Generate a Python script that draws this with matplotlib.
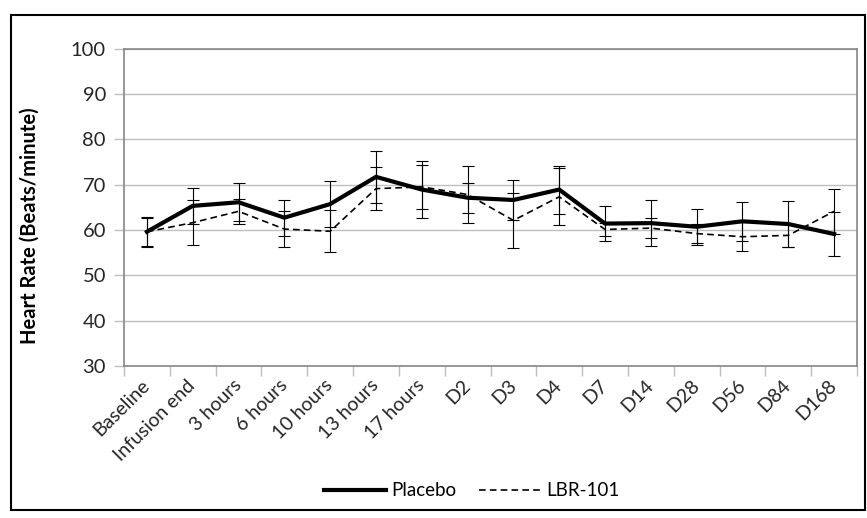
import matplotlib
matplotlib.use('Agg')
import matplotlib.pyplot as plt
from matplotlib.patches import Rectangle
import numpy as np

plt.rcParams['font.family'] = ['Lato', 'DejaVu Sans']

# timepoints
categories = ['Baseline', 'Infusion end', '3 hours', '6 hours', '10 hours', '13 hours',
              '17 hours', 'D2', 'D3', 'D4', 'D7', 'D14', 'D28', 'D56', 'D84', 'D168']

# mean heart rate and SD
placebo_mean = [59.6, 65.3, 66.1, 62.7, 65.7, 71.7, 68.9, 67.1, 66.6, 68.9, 61.4, 61.5, 60.7, 61.9, 61.3, 59.1]
placebo_sd = [3.3, 4.0, 4.2, 4.0, 5.1, 5.8, 6.2, 3.3, 4.5, 5.3, 3.9, 5.0, 4.0, 4.3, 5.1, 4.9]
lbr_mean = [59.6, 61.6, 64.1, 60.2, 59.7, 69.1, 69.5, 67.8, 62.1, 67.3, 60.1, 60.4, 59.2, 58.5, 58.8, 64.1]
lbr_sd = [3.1, 4.9, 2.8, 4.0, 4.6, 4.7, 4.9, 6.3, 6.0, 6.3, 1.5, 2.2, 2.1, 3.2, 2.6, 5.0]

yticks = [30, 40, 50, 60, 70, 80, 90, 100]

W, H = 867, 518
fig = plt.figure(figsize=(W / 100, H / 100), dpi=100)
ax = fig.add_axes([124 / W, 1 - 366 / H, (857 - 124) / W, (366 - 48.5) / H])

x = np.arange(len(categories))

# error bars
ax.errorbar(x, placebo_mean, yerr=placebo_sd, fmt='none', ecolor='black',
            elinewidth=0.8, capsize=4, capthick=0.8, zorder=3)
ax.errorbar(x, lbr_mean, yerr=lbr_sd, fmt='none', ecolor='black',
            elinewidth=0.8, capsize=4, capthick=0.8, zorder=3)

ax.plot(x, placebo_mean, color='black', lw=3.0, solid_joinstyle='miter', label='Placebo', zorder=4)
ax.plot(x, lbr_mean, color='black', lw=1.2, linestyle=(0, (4, 2.5)), label='LBR-101', zorder=5)

ax.set_xlim(-0.5, len(categories) - 0.5)
ax.set_ylim(30, 100)
ax.set_yticks(yticks)
ax.yaxis.grid(True, color='#BFBFBF', lw=1.0)
ax.set_axisbelow(True)

# ticks between categories, labels at centres
ax.set_xticks(np.arange(-0.5, len(categories)), minor=False)
ax.set_xticklabels([])
ax.set_xticks(x, minor=True)
ax.set_xticklabels(categories, minor=True, rotation=45, ha='right', va='center',
                   rotation_mode='anchor', fontsize=14, color='#262626')
ax.tick_params(axis='x', which='major', length=7, width=1, color='#BFBFBF', direction='out')
ax.tick_params(axis='x', which='minor', length=0, pad=12)
ax.tick_params(axis='y', length=7, width=1, color='#BFBFBF', labelsize=14.5,
               labelcolor='#262626', pad=6)

for s in ax.spines.values():
    s.set_color('#868686')
    s.set_linewidth(1.2)

ax.set_ylabel('Heart Rate (Beats/minute)', fontsize=14.5, fontweight='bold')
ax.yaxis.set_label_coords(40 / W, 1 - 226 / H, transform=fig.transFigure)

fig.legend(loc='center', bbox_to_anchor=(472 / W, 1 - 491 / H), ncol=2, frameon=False,
           fontsize=13.5, handlelength=3.3, columnspacing=1.2, handletextpad=0.3)

# chart border
fig.patches.append(Rectangle((10.5 / W, 1 - 510 / H), (865 - 10.5) / W, (510 - 15) / H,
                             transform=fig.transFigure, fill=False, edgecolor='black', lw=1.5))

fig.savefig('out.png', dpi=100)
